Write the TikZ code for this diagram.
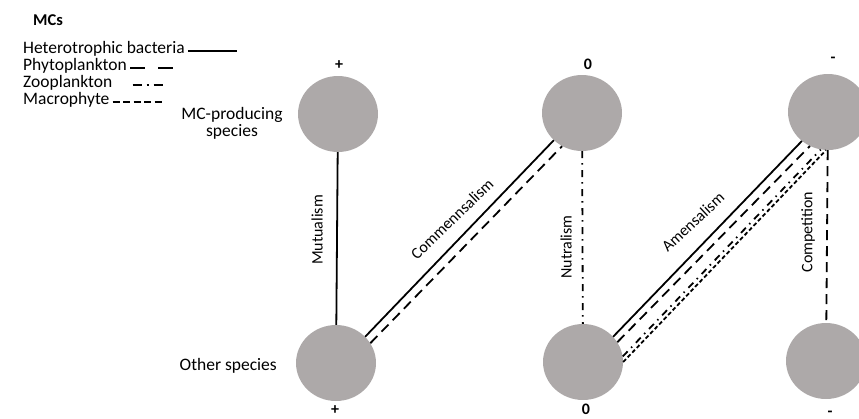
\documentclass[tikz,border=0pt]{standalone}
\usepackage{fontspec}
\setmainfont{Carlito}
\usepackage{xcolor}
\usetikzlibrary{shapes.geometric}
\definecolor{speciesgray}{RGB}{173,169,169}

\begin{document}
\begin{tikzpicture}[
  x=1pt, y=-1pt,
  species/.style={ellipse, fill=speciesgray, minimum width=80pt, minimum height=76pt, inner sep=0pt},
  txt/.style={font=\fontsize{17.5}{17}\selectfont, inner sep=0pt},
  sign/.style={font=\fontsize{16}{16}\selectfont\bfseries, inner sep=0pt},
  lbl/.style={font=\fontsize{16}{17}\selectfont, inner sep=0pt},
  hb/.style={line width=1.8pt},
  phyto/.style={line width=1.8pt, dash pattern=on 10pt off 6pt},
  zoo/.style={line width=1.8pt, dash pattern=on 7pt off 5pt on 1.5pt off 5.5pt},
  macro/.style={line width=1.8pt, dash pattern=on 4pt off 2.5pt}
]
\useasboundingbox (0,0) rectangle (859,418);
\clip (0,0) rectangle (859,418);

% legend
\node[txt, font=\fontsize{16.5}{17}\selectfont\bfseries, anchor=west] (mcs) at (33,20) {MCs};
\node[txt, anchor=west] (lhb) at (23,49) {Heterotrophic bacteria};
\node[txt, anchor=west] (lphy) at (23,66) {Phytoplankton};
\node[txt, anchor=west] (lzoo) at (23,83) {Zooplankton};
\node[txt, anchor=west] (lmac) at (23,100) {Macrophyte};
\draw[hb] ([xshift=3pt,yshift=-2pt]lhb.east) -- ++(49,0);
\draw[phyto, dash pattern=on 15pt off 13pt] ([xshift=3pt,yshift=-2pt]lphy.east) -- ++(45,0);
\draw[zoo, dash pattern=on 9pt off 5pt on 2pt off 5pt] ([xshift=20pt,yshift=-2pt]lzoo.east) -- ++(30,0);
\draw[macro, dash pattern=on 7pt off 3.5pt] ([xshift=3pt,yshift=-2pt]lmac.east) -- ++(49,0);

% species
\node[species] (tl) at (338,114) {};
\node[species] (tm) at (582,113) {};
\node[species] (tr) at (828,112) {};
\node[species] (bl) at (336,363) {};
\node[species] (bm) at (583,362) {};
\node[species] (br) at (826,361) {};

\node[txt, align=center] (mcp) at (232,123) {MC-producing\\species};
\node[txt, anchor=east] (oth) at (277,366) {Other species};

\node[sign] (stl) at (339,65) {+};
\node[sign] (stm) at (588,64) {0};
\node[sign] (str) at (833,60) {-};
\node[sign] (sbl) at (335,410) {+};
\node[sign] (sbm) at (586,409) {0};
\node[sign] (sbr) at (830,414) {-};

% interactions
\draw[hb] (tl) -- (bl);
\draw[hb] (bl.42) -- (tm.224);
\draw[phyto] (bl.30) -- (tm.239);
\draw[zoo] (tm) -- (bm);
\draw[hb] (bm.40) -- (tr.228);
\draw[phyto] (bm.30) -- (tr.242);
\draw[zoo] (bm.8) -- (tr.259);
\draw[macro] (bm.0) -- (tr.267);
\draw[phyto] (tr) -- (br);

\node[lbl, rotate=90] (mut) at (317,230) {Mutualism};
\node[lbl, rotate=44] (com) at (452,219) {Commennsalism};
\node[lbl, rotate=90] (nut) at (566,247) {Nutralism};
\node[lbl, rotate=43] (ame) at (693,222) {Amensalism};
\node[lbl, rotate=90] (cmp) at (808,232) {Competition};
\end{tikzpicture}
\end{document}
